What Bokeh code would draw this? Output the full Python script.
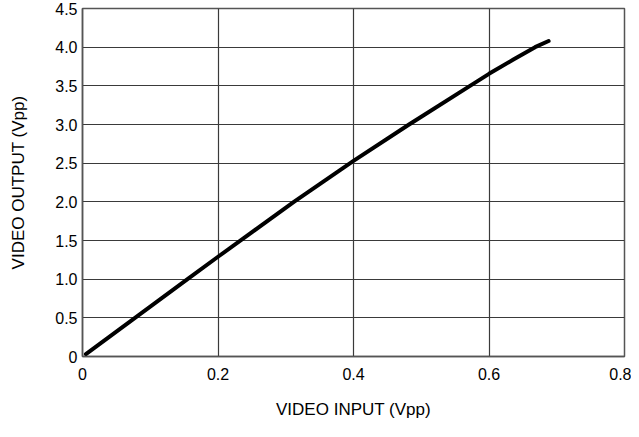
from bokeh.plotting import figure
from bokeh.models import Range1d, FixedTicker, ColumnDataSource
from bokeh.embed import file_html
from bokeh.resources import INLINE

video_input = [0.005, 0.076, 0.155, 0.200, 0.312, 0.400, 0.482, 0.572, 0.600, 0.636, 0.668, 0.688]
video_output = [0.03, 0.49, 1.00, 1.29, 2.00, 2.53, 3.00, 3.50, 3.655, 3.84, 4.00, 4.08]
x_ticks = [0, 0.2, 0.4, 0.6, 0.8]
x_tick_labels = ["0", "0.2", "0.4", "0.6", "0.8"]
y_ticks = [0, 0.5, 1.0, 1.5, 2.0, 2.5, 3.0, 3.5, 4.0, 4.5]
y_tick_labels = ["0", "0.5", "1.0", "1.5", "2.0", "2.5", "3.0", "3.5", "4.0", "4.5"]

FONT = "Liberation Sans"

p = figure(width=631, height=421, output_backend="svg", toolbar_location=None,
           x_range=Range1d(0, 0.8), y_range=Range1d(0, 4.5),
           min_border_left=82, min_border_right=7, min_border_top=8, min_border_bottom=65)

src = ColumnDataSource(dict(x=video_input, y=video_output))
p.line("x", "y", source=src, line_color="black", line_width=4, line_cap="round", line_join="round")

p.xaxis.ticker = FixedTicker(ticks=x_ticks)
p.yaxis.ticker = FixedTicker(ticks=y_ticks)
p.xaxis.major_label_overrides = {t: l for t, l in zip(x_ticks, x_tick_labels)}
p.yaxis.major_label_overrides = {t: l for t, l in zip(y_ticks, y_tick_labels)}

p.xaxis.axis_label = "VIDEO INPUT (Vpp)"
p.yaxis.axis_label = "VIDEO OUTPUT (Vpp)"

for ax in (p.xaxis, p.yaxis):
    ax.major_tick_out = 0
    ax.major_tick_in = 0
    ax.minor_tick_out = 0
    ax.minor_tick_in = 0
    ax.axis_line_color = "#555555"
    ax.axis_line_width = 1.5
    ax.major_label_text_font = FONT
    ax.major_label_text_font_size = "16px"
    ax.major_label_text_color = "black"
    ax.axis_label_text_font = FONT
    ax.axis_label_text_font_size = "17px"
    ax.axis_label_text_font_style = "normal"
    ax.axis_label_text_color = "black"

p.xaxis.major_label_standoff = 11
p.xaxis.axis_label_standoff = 17
p.yaxis.major_label_standoff = 5
p.yaxis.axis_label_standoff = 24

p.xgrid.ticker = FixedTicker(ticks=x_ticks)
p.ygrid.ticker = FixedTicker(ticks=y_ticks)
p.grid.grid_line_color = "#3a3a3a"
p.grid.grid_line_width = 1.2
p.grid.grid_line_alpha = 1.0

p.outline_line_color = "#555555"
p.outline_line_width = 1.5
p.background_fill_color = "white"
p.border_fill_color = "white"

open("out.html", "w").write(file_html(p, INLINE))
